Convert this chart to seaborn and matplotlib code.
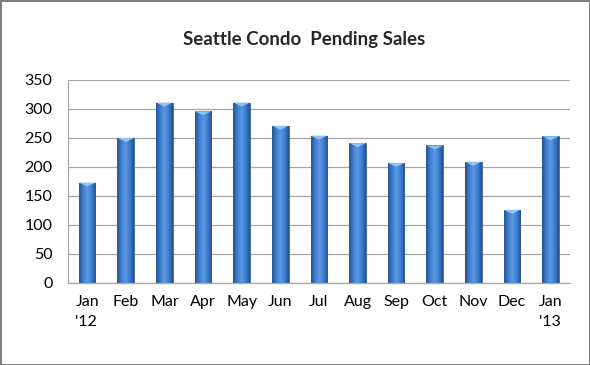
import matplotlib
matplotlib.use("Agg")
import matplotlib.pyplot as plt
import matplotlib.patches as mpatches
import numpy as np
import pandas as pd
import seaborn as sns

months = ["Jan\n'12", "Feb", "Mar", "Apr", "May", "Jun", "Jul",
          "Aug", "Sep", "Oct", "Nov", "Dec", "Jan\n'13"]
pending = [173, 250, 311, 296, 311, 271, 254, 241, 207, 237, 209, 126, 253]

df = pd.DataFrame({"month": months, "pending": pending})

sns.set_style("white")
plt.rcParams["font.family"] = ["Lato", "DejaVu Sans"]

fig = plt.figure(figsize=(5.9, 3.65), dpi=100)
ax = fig.add_axes([0.115, 0.225, 0.851, 0.556])

sns.barplot(data=df, x="month", y="pending", color="#3a75c4", width=0.43,
            ax=ax, zorder=2)

# cylinder-style horizontal gradient for each bar
cmap = matplotlib.colors.LinearSegmentedColormap.from_list(
    "cyl", ["#24518f", "#3f7fd0", "#5a98e2", "#3f7fd0", "#24518f"])
grad = np.linspace(0, 1, 64).reshape(1, -1)
for p in ax.patches:
    x0, y0 = p.get_x(), p.get_y()
    w, h = p.get_width(), p.get_height()
    p.set_facecolor("none")
    p.set_edgecolor("#2a5a98")
    p.set_linewidth(0.6)
    im = ax.imshow(grad, cmap=cmap, aspect="auto",
                   extent=[x0, x0 + w, y0, y0 + h], zorder=1.9)
    im.set_clip_path(p)
    # light cap at the top of the bar
    cap = mpatches.Polygon([[x0, y0 + h], [x0 + w, y0 + h],
                            [x0 + w * 0.5, y0 + h - 7]],
                           closed=True, facecolor="#8fc3f2",
                           edgecolor="none", zorder=2.1)
    ax.add_patch(cap)

ax.set_xlim(-0.5, len(months) - 0.5)
ax.set_ylim(0, 350)
ax.set_yticks(range(0, 351, 50))
ax.yaxis.grid(True, color="#a6a6a6", linewidth=0.9, zorder=0)
ax.set_axisbelow(True)
ax.set_xlabel("")
ax.set_ylabel("")
ax.tick_params(axis="both", labelsize=11.5, colors="black", length=0)
ax.tick_params(axis="y", pad=11)
ax.tick_params(axis="x", pad=9)
for lab in ax.get_xticklabels():
    lab.set_horizontalalignment("center")
    lab.set_multialignment("left")
    lab.set_linespacing(1.55)

for side in ["top", "right"]:
    ax.spines[side].set_visible(False)
for side in ["left", "bottom"]:
    ax.spines[side].set_color("#a6a6a6")
    ax.spines[side].set_linewidth(0.9)

fig.text(0.515, 0.893, "Seattle Condo  Pending Sales", ha="center",
         va="center", fontsize=13.5, fontweight="bold")

fig.patch.set_edgecolor("#7f7f7f")
fig.patch.set_linewidth(2)

fig.savefig("out.png", dpi=100, edgecolor=fig.get_edgecolor())
